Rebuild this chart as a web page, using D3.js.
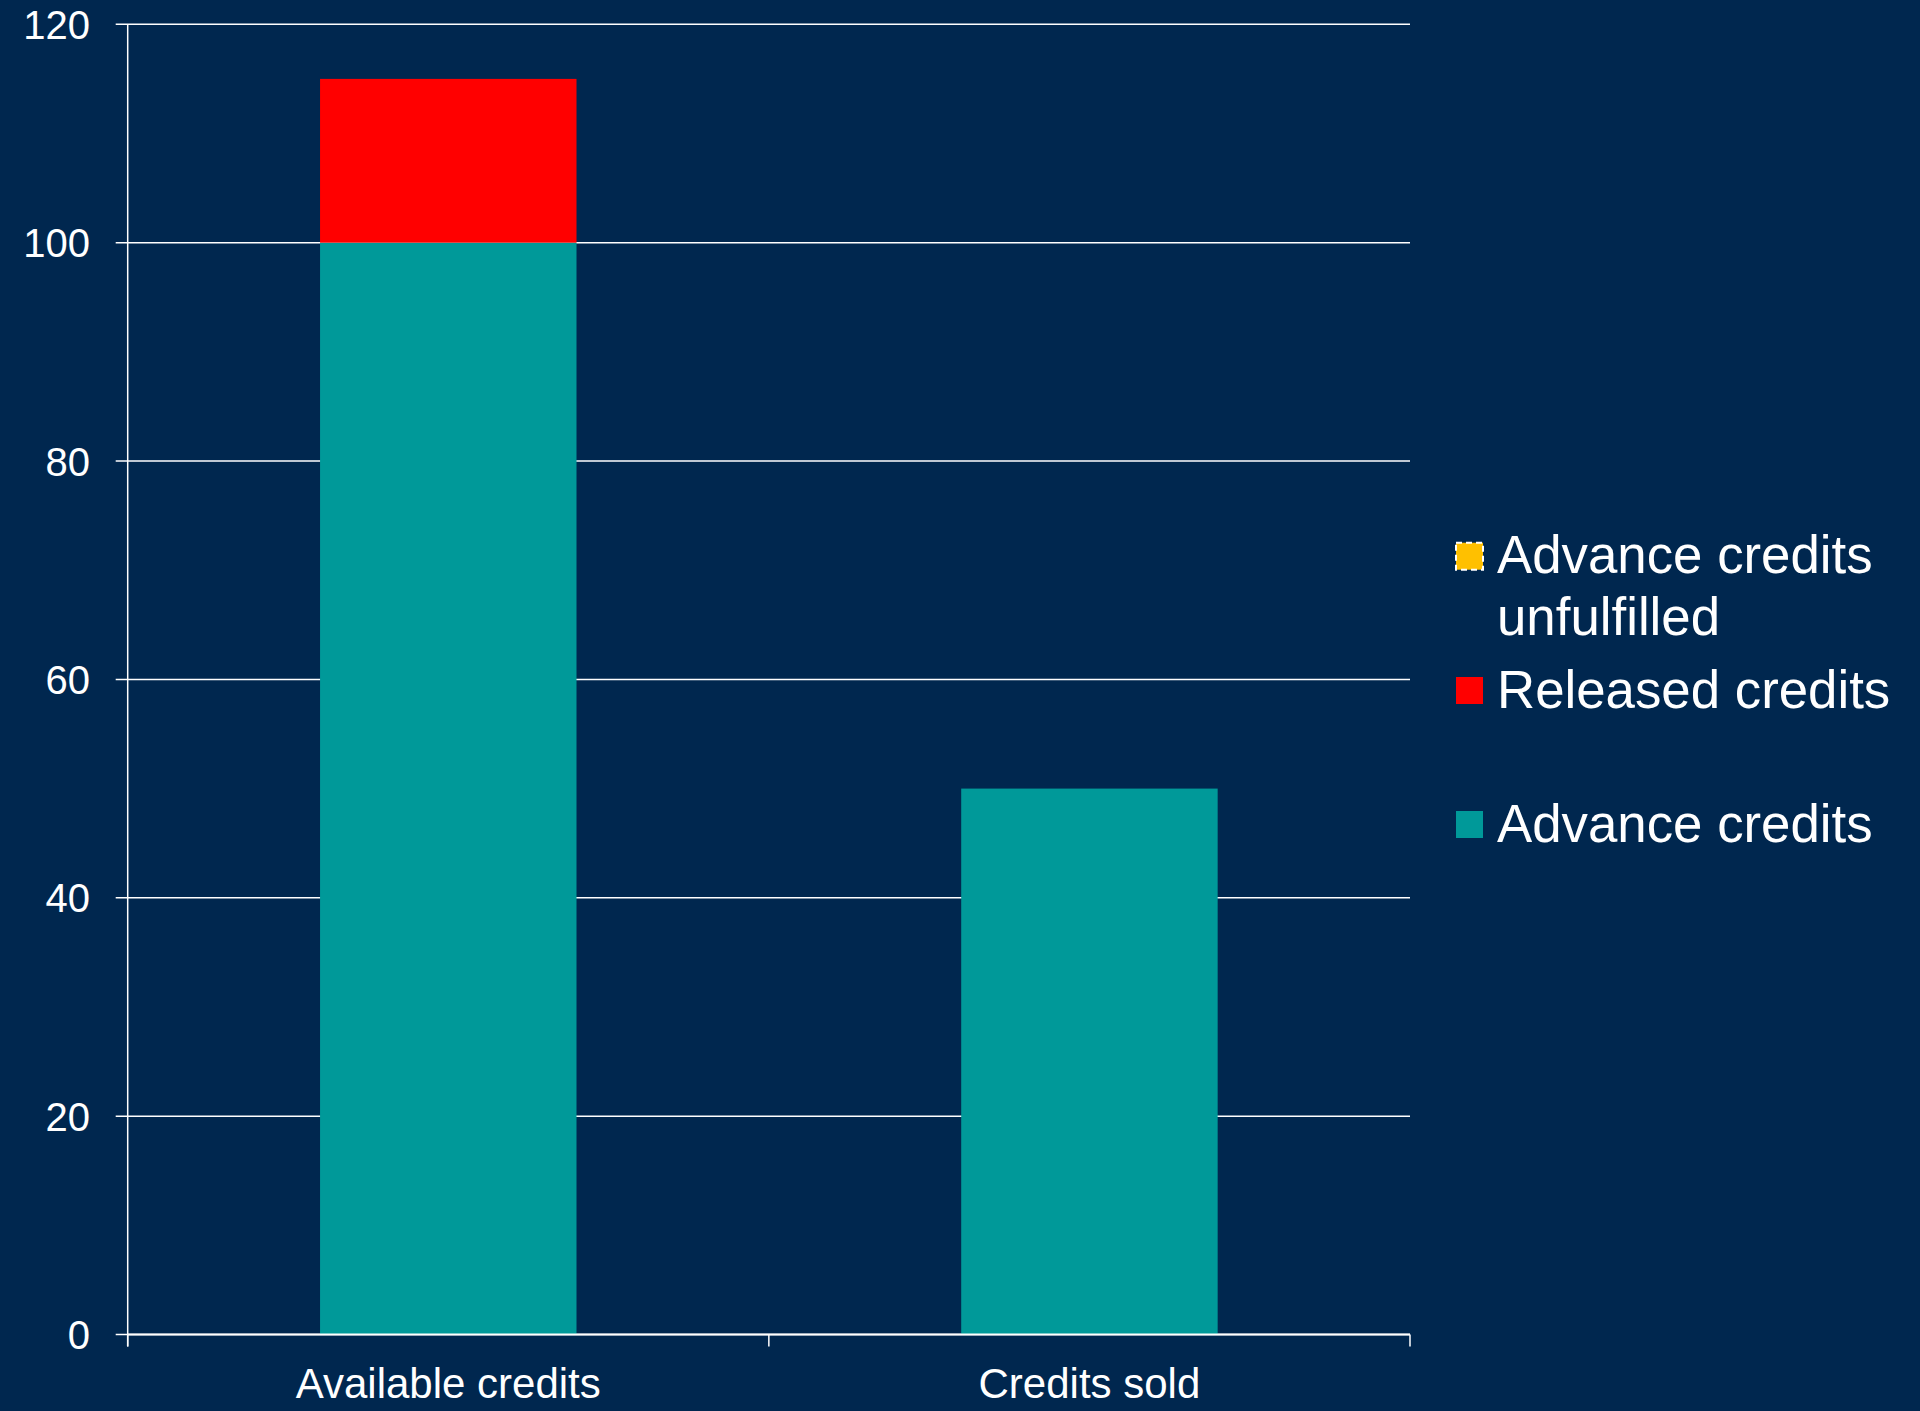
<!DOCTYPE html>
<html>
<head>
<meta charset="utf-8">
<script src="https://cdn.jsdelivr.net/npm/d3@7"></script>
<style>
  body { margin: 0; background: #00274f; }
  svg { display: block; font-family: Arial, "Liberation Sans", sans-serif; }
</style>
</head>
<body>
<div id="canvas"></div>
<script>
"use strict"

/* Data */
let categories = ["Available credits", "Credits sold"];
let advanceCredits = [100, 50];
let releasedCredits = [15, 0];
let unfulfilledCredits = [0, 0];
let seriesKeys = ["advance", "released", "unfulfilled"];
let seriesNames = ["Advance credits", "Released credits", "Advance credits unfulfilled"];
let yTicks = [0, 20, 40, 60, 80, 100, 120];

/* Drawing size */
let svgWidth = 1920;
let svgHeight = 1411;
let leftMargin = 127.7;
let plotRight = 1410;
let topY = 24.3;
let bottomY = 1334.5;

let seriesColors = {
    advance: "#009999",
    released: "#ff0000",
    unfulfilled: "#ffc000"
};

let svg = d3.select("#canvas")
    .append("svg")
    .attr("width", svgWidth)
    .attr("height", svgHeight);

svg.append("rect")
    .attr("width", svgWidth)
    .attr("height", svgHeight)
    .attr("fill", "#00274f");

/* table for d3.stack */
let table = categories.map(function (c, i) {
    return { category: c, advance: advanceCredits[i], released: releasedCredits[i], unfulfilled: unfulfilledCredits[i] };
});
let stacked = d3.stack().keys(seriesKeys)(table);

let xScale = d3.scaleBand()
    .domain(categories)
    .range([leftMargin, plotRight])
    .padding(0);

let yScale = d3.scaleLinear()
    .domain([0, 120])
    .range([bottomY, topY]);

let barWidth = xScale.bandwidth() * 0.4;

/* gridlines */
svg.append("g")
    .selectAll("line")
    .data(yTicks)
    .join("line")
    .attr("x1", leftMargin - 12)
    .attr("x2", plotRight)
    .attr("y1", function (d) { return yScale(d); })
    .attr("y2", function (d) { return yScale(d); })
    .attr("stroke", "#ffffff")
    .attr("stroke-width", 1.5);

/* bars */
svg.append("g")
    .selectAll("g")
    .data(stacked)
    .join("g")
    .attr("fill", function (s) { return seriesColors[s.key]; })
    .selectAll("rect")
    .data(function (s) { return s; })
    .join("rect")
    .attr("x", function (d) { return xScale(d.data.category) + (xScale.bandwidth() - barWidth) / 2; })
    .attr("width", barWidth)
    .attr("y", function (d) { return yScale(d[1]); })
    .attr("height", function (d) { return yScale(d[0]) - yScale(d[1]); });

/* y axis line */
svg.append("line")
    .attr("x1", leftMargin)
    .attr("x2", leftMargin)
    .attr("y1", topY)
    .attr("y2", bottomY + 12)
    .attr("stroke", "#ffffff")
    .attr("stroke-width", 1.5);

/* x axis line + ticks between categories */
svg.append("line")
    .attr("x1", leftMargin)
    .attr("x2", plotRight)
    .attr("y1", bottomY)
    .attr("y2", bottomY)
    .attr("stroke", "#ffffff")
    .attr("stroke-width", 2);

let tickXs = categories.map(function (c) { return xScale(c); }).concat([plotRight]);
svg.append("g")
    .selectAll("line")
    .data(tickXs)
    .join("line")
    .attr("x1", function (d) { return d; })
    .attr("x2", function (d) { return d; })
    .attr("y1", bottomY)
    .attr("y2", bottomY + 12)
    .attr("stroke", "#ffffff")
    .attr("stroke-width", 1.5);

/* y tick labels */
svg.append("g")
    .selectAll("text")
    .data(yTicks)
    .join("text")
    .attr("x", 90)
    .attr("y", function (d) { return yScale(d) + 14.5; })
    .attr("text-anchor", "end")
    .attr("font-size", 40)
    .attr("fill", "#ffffff")
    .text(function (d) { return d; });

/* category labels */
svg.append("g")
    .selectAll("text")
    .data(categories)
    .join("text")
    .attr("x", function (d) { return xScale(d) + xScale.bandwidth() / 2; })
    .attr("y", 1398)
    .attr("text-anchor", "middle")
    .attr("font-size", 42)
    .attr("fill", "#ffffff")
    .text(function (d) { return d; });

/* legend, top entry first */
let legendItems = [
    { key: "unfulfilled", lines: ["Advance credits", "unfulfilled"], y: 542.7 },
    { key: "released", lines: [seriesNames[1]], y: 677 },
    { key: "advance", lines: [seriesNames[0]], y: 811 }
];

let legend = svg.append("g");
legendItems.forEach(function (item) {
    legend.append("rect")
        .attr("x", 1456)
        .attr("y", item.y)
        .attr("width", 27)
        .attr("height", 27)
        .attr("fill", seriesColors[item.key])
        .attr("stroke", item.key === "unfulfilled" ? "#ffffff" : "none")
        .attr("stroke-width", 2)
        .attr("stroke-dasharray", "6,4");

    let t = legend.append("text")
        .attr("x", 1497)
        .attr("y", item.y + 30.5)
        .attr("font-size", 52.8)
        .attr("fill", "#ffffff");
    item.lines.forEach(function (line, i) {
        t.append("tspan")
            .attr("x", 1497)
            .attr("dy", i === 0 ? 0 : 62)
            .text(line);
    });
});
</script>
</body>
</html>
